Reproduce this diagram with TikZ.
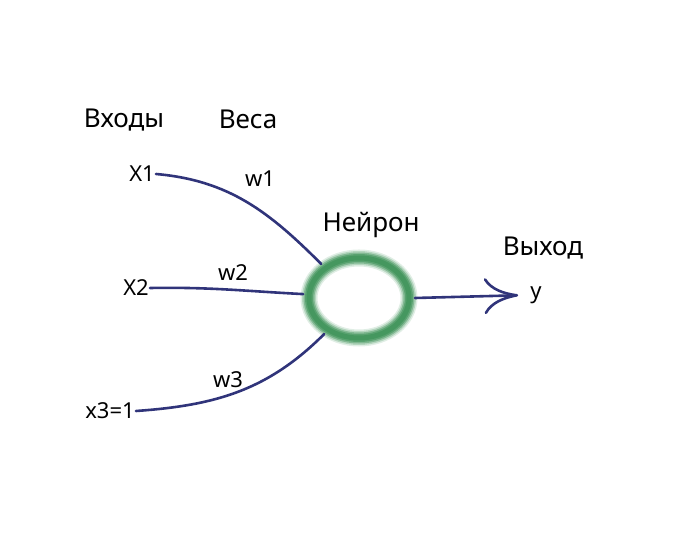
\documentclass[tikz,border=0pt]{standalone}
\usepackage{fontspec}
\setmainfont{Noto Sans}
\usetikzlibrary{shapes.geometric,arrows.meta}
\definecolor{wire}{RGB}{48,52,122}
\definecolor{ring}{RGB}{50,140,78}
\tikzset{
  wirestyle/.style={draw=wire, line width=2.6pt, line cap=round},
  headtext/.style={font=\fontsize{26}{28}\selectfont},
  labtext/.style={font=\fontsize{22}{24}\selectfont},
}
\begin{document}
\begin{tikzpicture}[x=1pt, y=1pt]
    \useasboundingbox (0,0) rectangle (696,538);
    \node[headtext] (inputs) at (124,418) {Входы};
    \node[headtext] (weights) at (248,419) {Веса};
    \node[headtext] (title) at (371,313) {Нейрон};
    \node[headtext] (outtitle) at (543,290) {Выход};
    \node[labtext, inner sep=1pt] (x1) at (142,364) {X1};
    \node[labtext, inner sep=1pt] (x2) at (136,250) {X2};
    \node[labtext, inner sep=1pt] (x3) at (110,127) {x3=1};
    \node[labtext] (w1) at (260,359) {w1};
    \node[labtext] (w2) at (233,265) {w2};
    \node[labtext] (w3) at (228,158) {w3};
    \node[labtext, inner sep=1pt] (y) at (536,243) {y};
    \node[ellipse, minimum width=100pt, minimum height=80pt, inner sep=0pt, outer sep=6pt] (neuron) at (359,240) {};
    \foreach \lw/\op in {17/0.15, 14/0.25, 11/0.4, 8/0.5, 5/0.5}
        \draw[ring, line width=\lw pt, opacity=\op] (neuron.center) ellipse (50 and 40);
    \draw[wirestyle] (x1.east) to[out=-5, in=135] (neuron.138);
    \draw[wirestyle] (x2.east) to[out=1, in=177] (neuron.176);
    \draw[wirestyle] (x3.east) to[out=4, in=225] (neuron.226);
    \draw[wirestyle, shorten >=11pt, -{To[length=34pt, width=36pt]}] (neuron.east) -- (y.west);
\end{tikzpicture}
\end{document}
